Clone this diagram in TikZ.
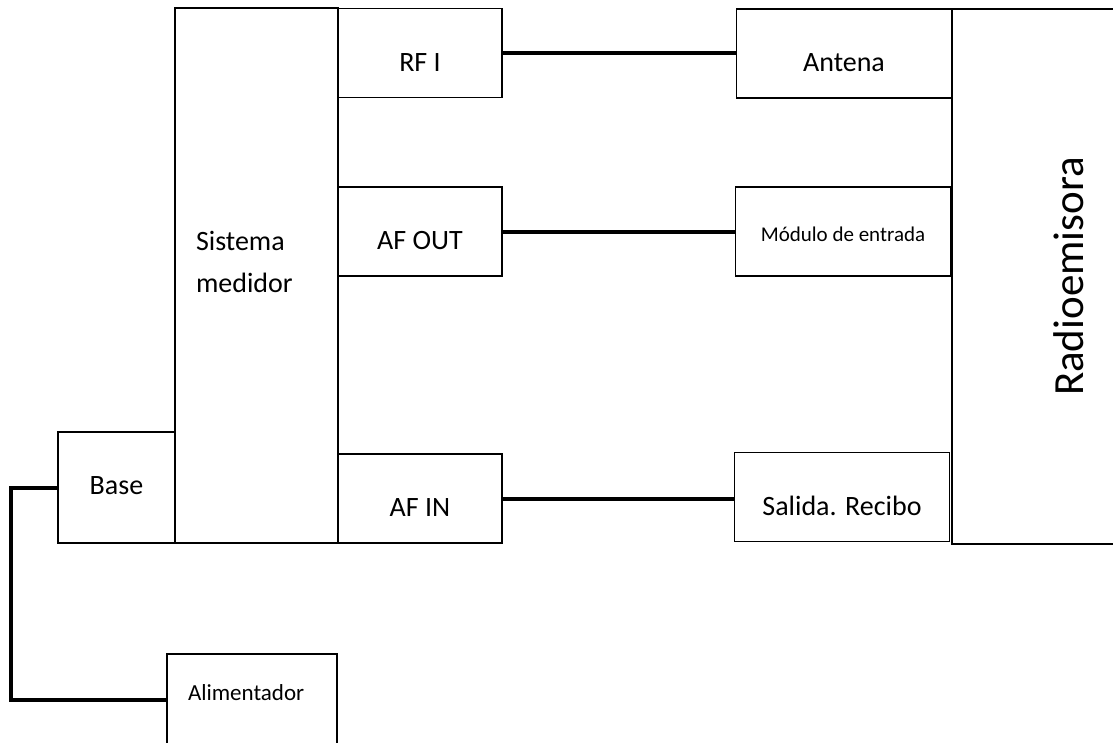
\documentclass[tikz,border=0pt]{standalone}
\usepackage{fontspec}
\setmainfont{Carlito}
\begin{document}
\begin{tikzpicture}[x=1pt, y=-1pt,
  blk/.style={draw, line width=1.6pt, inner sep=0pt, font=\fontsize{28}{34}\selectfont,
    text height=36pt, text depth=0pt, minimum width=164pt, minimum height=89pt},
  wide/.style={blk, minimum width=215pt},
  wire/.style={line width=4pt}]
\useasboundingbox (0,0) rectangle (1113,742);
% left side
\node[blk, minimum width=117pt, minimum height=111pt, text height=13pt] (base) at (116.5,487.5) {Base};
\node[blk, minimum width=163pt, minimum height=535pt, align=left, text width=121pt,
  text height=20pt, text depth=71pt, font=\fontsize{28}{42}\selectfont] (sis) at (256.5,275.5) {Sistema\\medidor};
\node[blk, minimum width=170pt, minimum height=91pt, align=left, text width=128pt,
  text height=16pt, text depth=14pt, font=\fontsize{23}{28}\selectfont] (alim) at (252,699.5) {Alimentador};
% ports
\node[blk] (rfi) at (420,53) {RF I};
\node[blk] (afout) at (420,231.5) {AF OUT};
\node[blk] (afin) at (420,498.5) {AF IN};
% right side
\node[wide] (ant) at (844,53.5) {Antena};
\node[wide, font=\fontsize{21}{25}\selectfont, text height=20pt] (mod) at (843,231.5) {Módulo de entrada};
\node[wide] (sal) at (842,497) {Salida. Recibo};
\node[draw, line width=1.6pt, inner sep=0pt, rotate=90, minimum width=535pt, minimum height=234pt,
  text height=28pt, text depth=0pt, font=\fontsize{43}{50}\selectfont] (radio) at (1069,276.5) {Radioemisora};
% links
\draw[wire] (rfi.east) -- (rfi.east -| ant.west);
\draw[wire] (afout.east) -- (afout.east -| mod.west);
\draw[wire] (afin.east) -- (afin.east -| sal.west);
\draw[wire] (base.west) -- ++(-46,0) |- (alim.west);
\end{tikzpicture}
\end{document}
